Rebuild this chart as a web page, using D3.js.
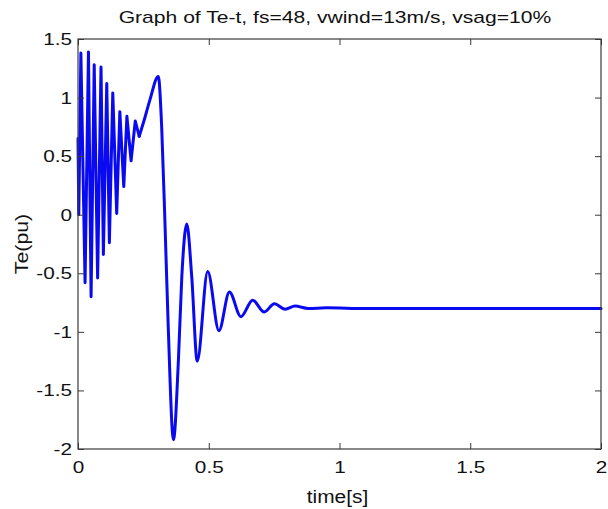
<!DOCTYPE html>
<html>
<head>
<meta charset="utf-8">
<script src="https://cdn.jsdelivr.net/npm/d3@7"></script>
<style>
  html, body { margin: 0; padding: 0; background: #ffffff; }
  svg { display: block; font-family: "Liberation Sans", Arial, Helvetica, sans-serif; }
</style>
</head>
<body>
<svg id="chart" width="608" height="509"></svg>
<script>
// ---- data ----
const timeS = [0, 0.003, 0.011, 0.027, 0.040, 0.050, 0.062, 0.075, 0.088, 0.097,
  0.110, 0.120, 0.133, 0.148, 0.160, 0.175, 0.187, 0.203, 0.219, 0.234,
  0.256, 0.275, 0.307, 0.320, 0.333, 0.345, 0.365, 0.384, 0.397, 0.416,
  0.435, 0.456, 0.496, 0.539, 0.579, 0.623, 0.668, 0.712, 0.751, 0.792,
  0.830, 0.880, 0.950, 1.100, 1.500, 2.000];
const tePu = [0.65, 0.00, 1.38, -0.58, 1.39, -0.70, 1.28, -0.54, 1.26, -0.34,
  1.12, -0.24, 1.04, 0.01, 0.88, 0.24, 0.84, 0.46, 0.80, 0.67,
  0.83, 0.98, 1.18, 0.75, -0.10, -0.95, -1.92, -1.24, -0.53, -0.08,
  -0.53, -1.25, -0.485, -0.99, -0.66, -0.87, -0.73, -0.83, -0.76, -0.806,
  -0.78, -0.80, -0.795, -0.80, -0.80, -0.80];
const xTicks = [0, 0.5, 1, 1.5, 2];
const yTicks = [-2, -1.5, -1, -0.5, 0, 0.5, 1, 1.5];
const titleText = "Graph of Te-t, fs=48, vwind=13m/s, vsag=10%";
const xLabel = "time[s]";
const yLabel = "Te(pu)";
const denseEnd = 0.234; // end of the fast oscillation (drawn with straight strokes)

// ---- layout ----
const svg = d3.select("#chart");
const m = { left: 78, top: 39, right: 7, bottom: 60 };
const W = 608 - m.left - m.right;   // 523
const H = 509 - m.top - m.bottom;   // 410
const axisColor = "#3a3a3a";
const lineColor = "#0a0af0";
const fontSize = 17;
const stretch = 1.22;

const x = d3.scaleLinear().domain([0, 2]).range([0, W]);
const y = d3.scaleLinear().domain([-2, 1.5]).range([H, 0]);

const g = svg.append("g").attr("transform", `translate(${m.left},${m.top})`);

function widen(sel, k) {
  sel.each(function () {
    const len = this.getComputedTextLength();
    d3.select(this).attr("textLength", len * k).attr("lengthAdjust", "spacingAndGlyphs");
  });
}

// data line
const pts = timeS.map((t, i) => [t, tePu[i]]);
const densePts = pts.filter(d => d[0] <= denseEnd);
const smoothPts = pts.filter(d => d[0] >= denseEnd);
const lineLinear = d3.line().x(d => x(d[0])).y(d => y(d[1])).curve(d3.curveLinear);
const lineSmooth = d3.line().x(d => x(d[0])).y(d => y(d[1])).curve(d3.curveMonotoneX);

[[densePts, lineLinear], [smoothPts, lineSmooth]].forEach(([data, gen]) => {
  g.append("path")
    .datum(data)
    .attr("fill", "none")
    .attr("stroke", lineColor)
    .attr("stroke-width", 3)
    .attr("stroke-linejoin", "round")
    .attr("stroke-linecap", "round")
    .attr("d", gen);
});

// axes
const ax = (sel) => {
  sel.select(".domain").remove();
  sel.selectAll(".tick line").attr("stroke", axisColor).attr("stroke-width", 1);
  sel.selectAll("text").attr("fill", "#111").style("font-size", fontSize + "px")
    .style("font-family", '"Liberation Sans", Arial, sans-serif');
};

const fmt = d => String(d);

const gx = g.append("g").attr("transform", `translate(0,${H})`)
  .call(d3.axisBottom(x).tickValues(xTicks).tickFormat(fmt).tickSizeInner(-6).tickSizeOuter(0).tickPadding(12));
ax(gx);
widen(gx.selectAll("text"), stretch);

const gy = g.append("g")
  .call(d3.axisLeft(y).tickValues(yTicks).tickFormat(fmt).tickSizeInner(-6).tickSizeOuter(0).tickPadding(6));
ax(gy);
widen(gy.selectAll("text"), stretch);

const gxt = g.append("g")
  .call(d3.axisTop(x).tickValues(xTicks).tickFormat("").tickSizeInner(-6).tickSizeOuter(0));
ax(gxt);
const gyr = g.append("g").attr("transform", `translate(${W},0)`)
  .call(d3.axisRight(y).tickValues(yTicks).tickFormat("").tickSizeInner(-6).tickSizeOuter(0));
ax(gyr);

// box
g.append("rect")
  .attr("x", 0).attr("y", 0).attr("width", W).attr("height", H)
  .attr("fill", "none").attr("stroke", axisColor).attr("stroke-width", 1.2);

// title
const tt = svg.append("text")
  .attr("x", 335).attr("y", 23)
  .attr("text-anchor", "middle")
  .attr("fill", "#111")
  .style("font-size", fontSize + "px")
  .text(titleText);
widen(tt, 1.24);

// x label
const xl = svg.append("text")
  .attr("x", m.left + W / 2 - 2).attr("y", 503)
  .attr("text-anchor", "middle")
  .attr("fill", "#111")
  .style("font-size", "18px")
  .text(xLabel);
widen(xl, 1.16);

// y label
const yl = svg.append("text")
  .attr("transform", `translate(28,${m.top + H / 2}) rotate(-90)`)
  .attr("text-anchor", "middle")
  .attr("fill", "#111")
  .style("font-size", "19px")
  .text(yLabel);
widen(yl, 1.12);
</script>
</body>
</html>
